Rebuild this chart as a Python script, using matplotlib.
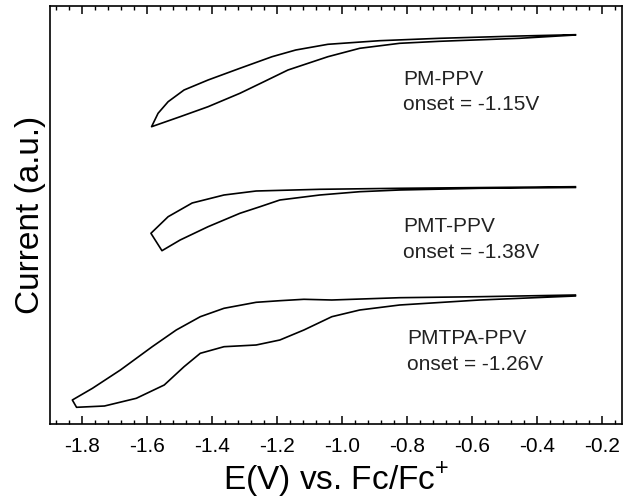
import matplotlib
matplotlib.use('Agg')
import matplotlib.pyplot as plt
from matplotlib.ticker import MultipleLocator

plt.rcParams['font.family'] = ['Liberation Sans', 'DejaVu Sans']
plt.rcParams['mathtext.fontset'] = 'custom'
plt.rcParams['mathtext.rm'] = 'Liberation Sans'

# closed CV loops, potential (V vs Fc/Fc+) and current (a.u.)
pm_v = [-0.282, -0.454, -0.700, -0.823, -0.946, -1.044, -1.167, -1.241, -1.315, -1.413, -1.499, -1.587,
        -1.567, -1.536, -1.487, -1.413, -1.315, -1.216, -1.143, -1.044, -0.885, -0.700, -0.454, -0.282]
pm_i = [3.890, 3.857, 3.827, 3.807, 3.757, 3.673, 3.540, 3.423, 3.307, 3.173, 3.073, 2.973,
        3.107, 3.223, 3.340, 3.440, 3.557, 3.673, 3.740, 3.797, 3.833, 3.857, 3.880, 3.893]

pmt_v = [-0.282, -0.577, -0.823, -0.946, -1.069, -1.192, -1.253, -1.315, -1.413, -1.499, -1.555, -1.589,
         -1.536, -1.462, -1.364, -1.265, -1.069, -0.823, -0.282]
pmt_i = [2.365, 2.357, 2.340, 2.323, 2.290, 2.240, 2.173, 2.107, 1.973, 1.840, 1.733, 1.907,
         2.073, 2.210, 2.290, 2.330, 2.347, 2.357, 2.373]

pmtpa_v = [-0.282, -0.577, -0.823, -1.032, -1.118, -1.192, -1.265, -1.364, -1.437, -1.511, -1.585, -1.683,
           -1.769, -1.831, -1.818, -1.732, -1.634, -1.548, -1.487, -1.437, -1.364, -1.265, -1.192, -1.118,
           -1.032, -0.946, -0.823, -0.577, -0.282]
pmtpa_i = [1.290, 1.273, 1.263, 1.240, 1.247, 1.233, 1.217, 1.157, 1.073, 0.940, 0.773, 0.540,
           0.357, 0.240, 0.167, 0.180, 0.257, 0.390, 0.573, 0.707, 0.773, 0.790, 0.840, 0.940,
           1.073, 1.140, 1.190, 1.240, 1.280]

names = ['PM-PPV', 'PMT-PPV', 'PMTPA-PPV']
onsets = [-1.15, -1.38, -1.26]

fig = plt.figure(figsize=(6.24, 5.0), dpi=100)
ax = fig.add_axes([0.080, 0.152, 0.916, 0.836])

for v, i in [(pm_v, pm_i), (pmt_v, pmt_i), (pmtpa_v, pmtpa_i)]:
    ax.plot(v, i, color='black', lw=1.2)

# labels next to each loop (name line, onset line)
label_x = [-0.812, -0.812, -0.800]
name_y = [3.44, 1.97, 0.85]
onset_y = [3.19, 1.72, 0.60]
for name, onset, x, y1, y2 in zip(names, onsets, label_x, name_y, onset_y):
    ax.text(x, y1, name, fontsize=15, color='#222222', va='center', ha='left')
    ax.text(x, y2, 'onset = %.2fV' % onset, fontsize=15, color='#222222', va='center', ha='left')

ax.set_xlim(-1.9, -0.14)
ax.set_ylim(0, 4.18)
ax.xaxis.set_major_locator(MultipleLocator(0.2))
ax.xaxis.set_minor_locator(MultipleLocator(0.04))
ax.xaxis.set_major_formatter(plt.FuncFormatter(lambda x, p: '%.1f' % x))
ax.tick_params(axis='x', which='both', direction='in', top=True, labelsize=15, pad=9)
ax.tick_params(axis='x', which='major', length=6, width=1.1)
ax.tick_params(axis='x', which='minor', length=3, width=1.0)
ax.set_yticks([])
for s in ax.spines.values():
    s.set_linewidth(1.2)

ax.set_xlabel('E(V) vs. Fc/Fc$^{+}$', fontsize=24, labelpad=3)
ax.set_ylabel('Current (a.u.)', fontsize=24, labelpad=3)

plt.savefig('out.png', dpi=100)
